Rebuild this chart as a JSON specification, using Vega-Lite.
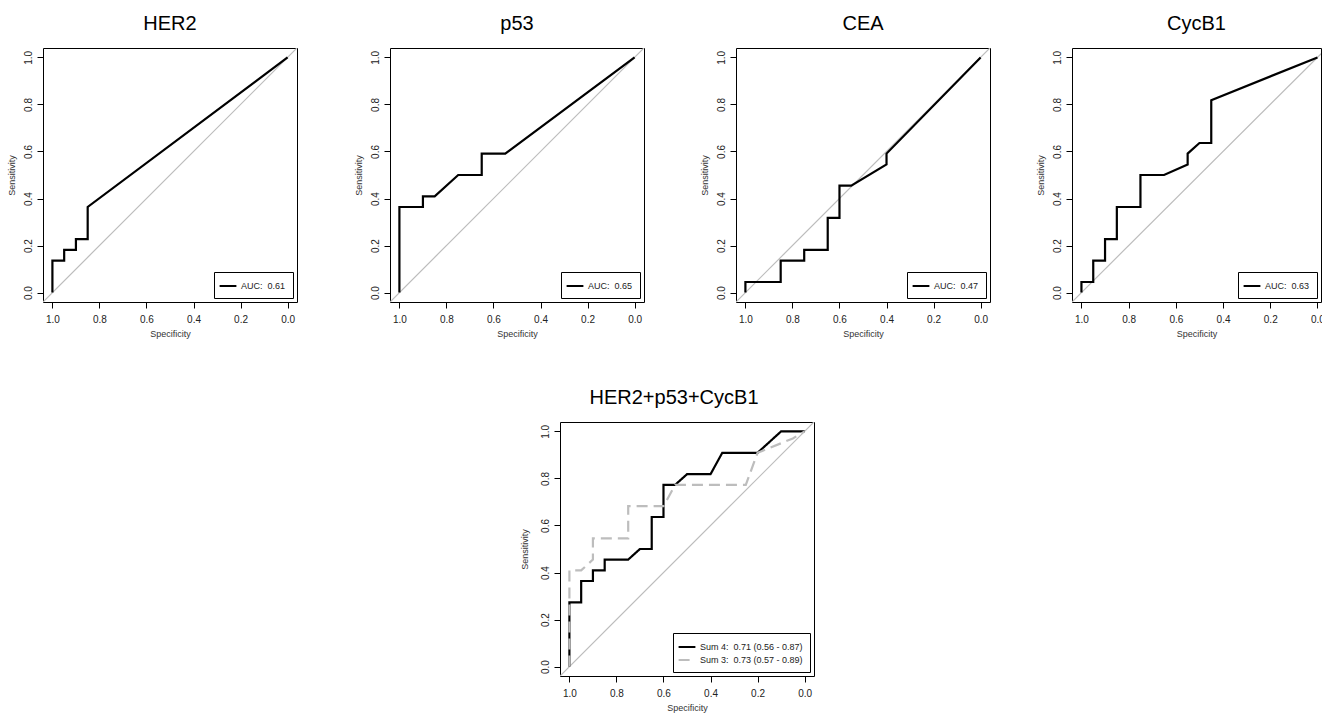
{
  "$schema": "https://vega.github.io/schema/vega-lite/v6.json",
  "padding": {"left": 6, "top": 13, "right": 0, "bottom": 0},
  "background": "white",
  "datasets": {
    "diag": [{"spec": 1.04, "sens": -0.04}, {"spec": -0.04, "sens": 1.04}],
    "her2": [
      {"i": 0, "spec": 1, "sens": 0, "series": "AUC:\u00a0 0.61"},
      {"i": 1, "spec": 1, "sens": 0.136, "series": "AUC:\u00a0 0.61"},
      {"i": 2, "spec": 0.95, "sens": 0.136, "series": "AUC:\u00a0 0.61"},
      {"i": 3, "spec": 0.95, "sens": 0.182, "series": "AUC:\u00a0 0.61"},
      {"i": 4, "spec": 0.9, "sens": 0.182, "series": "AUC:\u00a0 0.61"},
      {"i": 5, "spec": 0.9, "sens": 0.227, "series": "AUC:\u00a0 0.61"},
      {"i": 6, "spec": 0.85, "sens": 0.227, "series": "AUC:\u00a0 0.61"},
      {"i": 7, "spec": 0.85, "sens": 0.364, "series": "AUC:\u00a0 0.61"},
      {"i": 8, "spec": 0, "sens": 1, "series": "AUC:\u00a0 0.61"}
    ],
    "p53": [
      {"i": 0, "spec": 1, "sens": 0, "series": "AUC:\u00a0 0.65"},
      {"i": 1, "spec": 1, "sens": 0.364, "series": "AUC:\u00a0 0.65"},
      {"i": 2, "spec": 0.9, "sens": 0.364, "series": "AUC:\u00a0 0.65"},
      {"i": 3, "spec": 0.9, "sens": 0.409, "series": "AUC:\u00a0 0.65"},
      {"i": 4, "spec": 0.85, "sens": 0.409, "series": "AUC:\u00a0 0.65"},
      {"i": 5, "spec": 0.75, "sens": 0.5, "series": "AUC:\u00a0 0.65"},
      {"i": 6, "spec": 0.65, "sens": 0.5, "series": "AUC:\u00a0 0.65"},
      {"i": 7, "spec": 0.65, "sens": 0.591, "series": "AUC:\u00a0 0.65"},
      {"i": 8, "spec": 0.55, "sens": 0.591, "series": "AUC:\u00a0 0.65"},
      {"i": 9, "spec": 0, "sens": 1, "series": "AUC:\u00a0 0.65"}
    ],
    "cea": [
      {"i": 0, "spec": 1, "sens": 0, "series": "AUC:\u00a0 0.47"},
      {"i": 1, "spec": 1, "sens": 0.045, "series": "AUC:\u00a0 0.47"},
      {"i": 2, "spec": 0.85, "sens": 0.045, "series": "AUC:\u00a0 0.47"},
      {"i": 3, "spec": 0.85, "sens": 0.136, "series": "AUC:\u00a0 0.47"},
      {"i": 4, "spec": 0.75, "sens": 0.136, "series": "AUC:\u00a0 0.47"},
      {"i": 5, "spec": 0.75, "sens": 0.182, "series": "AUC:\u00a0 0.47"},
      {"i": 6, "spec": 0.65, "sens": 0.182, "series": "AUC:\u00a0 0.47"},
      {"i": 7, "spec": 0.65, "sens": 0.318, "series": "AUC:\u00a0 0.47"},
      {"i": 8, "spec": 0.6, "sens": 0.318, "series": "AUC:\u00a0 0.47"},
      {"i": 9, "spec": 0.6, "sens": 0.455, "series": "AUC:\u00a0 0.47"},
      {"i": 10, "spec": 0.55, "sens": 0.455, "series": "AUC:\u00a0 0.47"},
      {"i": 11, "spec": 0.4, "sens": 0.545, "series": "AUC:\u00a0 0.47"},
      {"i": 12, "spec": 0.4, "sens": 0.591, "series": "AUC:\u00a0 0.47"},
      {"i": 13, "spec": 0, "sens": 1, "series": "AUC:\u00a0 0.47"}
    ],
    "cycb1": [
      {"i": 0, "spec": 1, "sens": 0, "series": "AUC:\u00a0 0.63"},
      {"i": 1, "spec": 1, "sens": 0.045, "series": "AUC:\u00a0 0.63"},
      {"i": 2, "spec": 0.95, "sens": 0.045, "series": "AUC:\u00a0 0.63"},
      {"i": 3, "spec": 0.95, "sens": 0.136, "series": "AUC:\u00a0 0.63"},
      {"i": 4, "spec": 0.9, "sens": 0.136, "series": "AUC:\u00a0 0.63"},
      {"i": 5, "spec": 0.9, "sens": 0.227, "series": "AUC:\u00a0 0.63"},
      {"i": 6, "spec": 0.85, "sens": 0.227, "series": "AUC:\u00a0 0.63"},
      {"i": 7, "spec": 0.85, "sens": 0.364, "series": "AUC:\u00a0 0.63"},
      {"i": 8, "spec": 0.75, "sens": 0.364, "series": "AUC:\u00a0 0.63"},
      {"i": 9, "spec": 0.75, "sens": 0.5, "series": "AUC:\u00a0 0.63"},
      {"i": 10, "spec": 0.65, "sens": 0.5, "series": "AUC:\u00a0 0.63"},
      {"i": 11, "spec": 0.55, "sens": 0.545, "series": "AUC:\u00a0 0.63"},
      {"i": 12, "spec": 0.55, "sens": 0.591, "series": "AUC:\u00a0 0.63"},
      {"i": 13, "spec": 0.5, "sens": 0.636, "series": "AUC:\u00a0 0.63"},
      {"i": 14, "spec": 0.45, "sens": 0.636, "series": "AUC:\u00a0 0.63"},
      {"i": 15, "spec": 0.45, "sens": 0.818, "series": "AUC:\u00a0 0.63"},
      {"i": 16, "spec": 0, "sens": 1, "series": "AUC:\u00a0 0.63"}
    ],
    "combo": [
      {"i": 0, "spec": 1, "sens": 0, "series": "Sum 4:\u00a0 0.71 (0.56 - 0.87)"},
      {"i": 1, "spec": 1, "sens": 0.273, "series": "Sum 4:\u00a0 0.71 (0.56 - 0.87)"},
      {"i": 2, "spec": 0.95, "sens": 0.273, "series": "Sum 4:\u00a0 0.71 (0.56 - 0.87)"},
      {"i": 3, "spec": 0.95, "sens": 0.364, "series": "Sum 4:\u00a0 0.71 (0.56 - 0.87)"},
      {"i": 4, "spec": 0.9, "sens": 0.364, "series": "Sum 4:\u00a0 0.71 (0.56 - 0.87)"},
      {"i": 5, "spec": 0.9, "sens": 0.409, "series": "Sum 4:\u00a0 0.71 (0.56 - 0.87)"},
      {"i": 6, "spec": 0.85, "sens": 0.409, "series": "Sum 4:\u00a0 0.71 (0.56 - 0.87)"},
      {"i": 7, "spec": 0.85, "sens": 0.455, "series": "Sum 4:\u00a0 0.71 (0.56 - 0.87)"},
      {"i": 8, "spec": 0.75, "sens": 0.455, "series": "Sum 4:\u00a0 0.71 (0.56 - 0.87)"},
      {"i": 9, "spec": 0.7, "sens": 0.5, "series": "Sum 4:\u00a0 0.71 (0.56 - 0.87)"},
      {"i": 10, "spec": 0.65, "sens": 0.5, "series": "Sum 4:\u00a0 0.71 (0.56 - 0.87)"},
      {"i": 11, "spec": 0.65, "sens": 0.636, "series": "Sum 4:\u00a0 0.71 (0.56 - 0.87)"},
      {"i": 12, "spec": 0.6, "sens": 0.636, "series": "Sum 4:\u00a0 0.71 (0.56 - 0.87)"},
      {"i": 13, "spec": 0.6, "sens": 0.773, "series": "Sum 4:\u00a0 0.71 (0.56 - 0.87)"},
      {"i": 14, "spec": 0.55, "sens": 0.773, "series": "Sum 4:\u00a0 0.71 (0.56 - 0.87)"},
      {"i": 15, "spec": 0.5, "sens": 0.818, "series": "Sum 4:\u00a0 0.71 (0.56 - 0.87)"},
      {"i": 16, "spec": 0.4, "sens": 0.818, "series": "Sum 4:\u00a0 0.71 (0.56 - 0.87)"},
      {"i": 17, "spec": 0.35, "sens": 0.909, "series": "Sum 4:\u00a0 0.71 (0.56 - 0.87)"},
      {"i": 18, "spec": 0.2, "sens": 0.909, "series": "Sum 4:\u00a0 0.71 (0.56 - 0.87)"},
      {"i": 19, "spec": 0.1, "sens": 1, "series": "Sum 4:\u00a0 0.71 (0.56 - 0.87)"},
      {"i": 20, "spec": 0, "sens": 1, "series": "Sum 4:\u00a0 0.71 (0.56 - 0.87)"},
      {"i": 0, "spec": 1, "sens": 0, "series": "Sum 3:\u00a0 0.73 (0.57 - 0.89)"},
      {"i": 1, "spec": 1, "sens": 0.409, "series": "Sum 3:\u00a0 0.73 (0.57 - 0.89)"},
      {"i": 2, "spec": 0.95, "sens": 0.409, "series": "Sum 3:\u00a0 0.73 (0.57 - 0.89)"},
      {"i": 3, "spec": 0.9, "sens": 0.455, "series": "Sum 3:\u00a0 0.73 (0.57 - 0.89)"},
      {"i": 4, "spec": 0.9, "sens": 0.545, "series": "Sum 3:\u00a0 0.73 (0.57 - 0.89)"},
      {"i": 5, "spec": 0.75, "sens": 0.545, "series": "Sum 3:\u00a0 0.73 (0.57 - 0.89)"},
      {"i": 6, "spec": 0.75, "sens": 0.682, "series": "Sum 3:\u00a0 0.73 (0.57 - 0.89)"},
      {"i": 7, "spec": 0.6, "sens": 0.682, "series": "Sum 3:\u00a0 0.73 (0.57 - 0.89)"},
      {"i": 8, "spec": 0.55, "sens": 0.773, "series": "Sum 3:\u00a0 0.73 (0.57 - 0.89)"},
      {"i": 9, "spec": 0.25, "sens": 0.773, "series": "Sum 3:\u00a0 0.73 (0.57 - 0.89)"},
      {"i": 10, "spec": 0.2, "sens": 0.909, "series": "Sum 3:\u00a0 0.73 (0.57 - 0.89)"},
      {"i": 11, "spec": 0.05, "sens": 0.97, "series": "Sum 3:\u00a0 0.73 (0.57 - 0.89)"},
      {"i": 12, "spec": 0, "sens": 1, "series": "Sum 3:\u00a0 0.73 (0.57 - 0.89)"}
    ]
  },
  "vconcat": [
    {
      "hconcat": [
        {
          "width": 254, "height": 254,
          "title": {"text": "HER2", "offset": 14},
          "encoding": {
            "x": {"field": "spec", "type": "quantitative", "scale": {"domain": [-0.04, 1.04], "reverse": true, "nice": false, "zero": false}, "axis": {"title": "Specificity", "values": [0, 0.2, 0.4, 0.6, 0.8, 1]}},
            "y": {"field": "sens", "type": "quantitative", "scale": {"domain": [-0.04, 1.04], "nice": false, "zero": false}, "axis": {"title": "Sensitivity", "values": [0, 0.2, 0.4, 0.6, 0.8, 1]}}
          },
          "layer": [
            {"data": {"name": "diag"}, "mark": {"type": "line", "color": "#bcbcbc", "strokeWidth": 1.2, "clip": true}, "encoding": {}},
            {"data": {"name": "her2"}, "mark": {"type": "line", "strokeWidth": 2.2, "clip": true},
             "encoding": {"order": {"field": "i", "type": "quantitative"}, "color": {"field": "series", "type": "nominal", "scale": {"range": ["black"]}, "legend": {"orient": "bottom-right"}}}}
          ]
        },
        {
          "hconcat": [
            {
              "width": 254, "height": 254,
              "title": {"text": "p53", "offset": 14},
              "encoding": {
                "x": {"field": "spec", "type": "quantitative", "scale": {"domain": [-0.04, 1.04], "reverse": true, "nice": false, "zero": false}, "axis": {"title": "Specificity", "values": [0, 0.2, 0.4, 0.6, 0.8, 1]}},
                "y": {"field": "sens", "type": "quantitative", "scale": {"domain": [-0.04, 1.04], "nice": false, "zero": false}, "axis": {"title": "Sensitivity", "values": [0, 0.2, 0.4, 0.6, 0.8, 1]}}
              },
              "layer": [
                {"data": {"name": "diag"}, "mark": {"type": "line", "color": "#bcbcbc", "strokeWidth": 1.2, "clip": true}, "encoding": {}},
                {"data": {"name": "p53"}, "mark": {"type": "line", "strokeWidth": 2.2, "clip": true},
                 "encoding": {"order": {"field": "i", "type": "quantitative"}, "color": {"field": "series", "type": "nominal", "scale": {"range": ["black"]}, "legend": {"orient": "bottom-right"}}}}
              ]
            },
            {
              "hconcat": [
                {
                  "width": 254, "height": 254,
                  "title": {"text": "CEA", "offset": 14},
                  "encoding": {
                    "x": {"field": "spec", "type": "quantitative", "scale": {"domain": [-0.04, 1.04], "reverse": true, "nice": false, "zero": false}, "axis": {"title": "Specificity", "values": [0, 0.2, 0.4, 0.6, 0.8, 1]}},
                    "y": {"field": "sens", "type": "quantitative", "scale": {"domain": [-0.04, 1.04], "nice": false, "zero": false}, "axis": {"title": "Sensitivity", "values": [0, 0.2, 0.4, 0.6, 0.8, 1]}}
                  },
                  "layer": [
                    {"data": {"name": "diag"}, "mark": {"type": "line", "color": "#bcbcbc", "strokeWidth": 1.2, "clip": true}, "encoding": {}},
                    {"data": {"name": "cea"}, "mark": {"type": "line", "strokeWidth": 2.2, "clip": true},
                     "encoding": {"order": {"field": "i", "type": "quantitative"}, "color": {"field": "series", "type": "nominal", "scale": {"range": ["black"]}, "legend": {"orient": "bottom-right"}}}}
                  ]
                },
                {
                  "width": 249, "height": 254,
                  "title": {"text": "CycB1", "offset": 14},
                  "encoding": {
                    "x": {"field": "spec", "type": "quantitative", "scale": {"domain": [-0.015, 1.04], "reverse": true, "nice": false, "zero": false}, "axis": {"title": "Specificity", "values": [0, 0.2, 0.4, 0.6, 0.8, 1]}},
                    "y": {"field": "sens", "type": "quantitative", "scale": {"domain": [-0.04, 1.04], "nice": false, "zero": false}, "axis": {"title": "Sensitivity", "values": [0, 0.2, 0.4, 0.6, 0.8, 1]}}
                  },
                  "layer": [
                    {"data": {"name": "diag"}, "mark": {"type": "line", "color": "#bcbcbc", "strokeWidth": 1.2, "clip": true}, "encoding": {}},
                    {"data": {"name": "cycb1"}, "mark": {"type": "line", "strokeWidth": 2.2, "clip": true},
                     "encoding": {"order": {"field": "i", "type": "quantitative"}, "color": {"field": "series", "type": "nominal", "scale": {"range": ["black"]}, "legend": {"orient": "bottom-right"}}}}
                  ]
                }
              ],
              "spacing": 44,
              "resolve": {"scale": {"x": "independent", "y": "independent", "color": "independent"}, "legend": {"color": "independent"}}
            }
          ],
          "spacing": 54,
          "resolve": {"scale": {"x": "independent", "y": "independent", "color": "independent"}, "legend": {"color": "independent"}}
        }
      ],
      "spacing": 55,
      "resolve": {"scale": {"x": "independent", "y": "independent", "color": "independent"}, "legend": {"color": "independent"}}
    },
    {
      "hconcat": [
        {
          "width": 476, "height": 10,
          "view": {"stroke": null},
          "data": {"values": [{"spec": 0}]},
          "mark": {"type": "point", "opacity": 0}
        },
        {
          "width": 254, "height": 254,
          "title": {"text": "HER2+p53+CycB1", "offset": 14, "dx": -13},
          "encoding": {
            "x": {"field": "spec", "type": "quantitative", "scale": {"domain": [-0.04, 1.04], "reverse": true, "nice": false, "zero": false}, "axis": {"title": "Specificity", "values": [0, 0.2, 0.4, 0.6, 0.8, 1]}},
            "y": {"field": "sens", "type": "quantitative", "scale": {"domain": [-0.04, 1.04], "nice": false, "zero": false}, "axis": {"title": "Sensitivity", "values": [0, 0.2, 0.4, 0.6, 0.8, 1], "titlePadding": 11.5}}
          },
          "layer": [
            {"data": {"name": "diag"}, "mark": {"type": "line", "color": "#bcbcbc", "strokeWidth": 1.2, "clip": true}, "encoding": {}},
            {"data": {"name": "combo"}, "transform": [{"filter": "indexof(datum.series, 'Sum 4') === 0"}],
             "mark": {"type": "line", "strokeWidth": 2.2, "clip": true},
             "encoding": {"order": {"field": "i", "type": "quantitative"},
               "color": {"field": "series", "type": "nominal", "scale": {"domain": ["Sum 4:\u00a0 0.71 (0.56 - 0.87)", "Sum 3:\u00a0 0.73 (0.57 - 0.89)"], "range": ["black", "#bdbdbd"]}, "legend": {"orient": "bottom-right"}},
               "strokeDash": {"field": "series", "type": "nominal", "scale": {"domain": ["Sum 4:\u00a0 0.71 (0.56 - 0.87)", "Sum 3:\u00a0 0.73 (0.57 - 0.89)"], "range": [[1, 0], [11, 6]]}, "legend": {"orient": "bottom-right"}}}},
            {"data": {"name": "combo"}, "transform": [{"filter": "indexof(datum.series, 'Sum 3') === 0"}],
             "mark": {"type": "line", "strokeWidth": 2.2, "clip": true},
             "encoding": {"order": {"field": "i", "type": "quantitative"},
               "color": {"field": "series", "type": "nominal"},
               "strokeDash": {"field": "series", "type": "nominal"}}}
          ]
        }
      ],
      "spacing": 0,
      "resolve": {"scale": {"x": "independent", "y": "independent", "color": "independent", "strokeDash": "independent"}, "legend": {"color": "independent", "strokeDash": "independent"}}
    }
  ],
  "spacing": 48,
  "resolve": {"scale": {"x": "independent", "y": "independent", "color": "independent", "strokeDash": "independent"}, "legend": {"color": "independent", "strokeDash": "independent"}},
  "config": {
    "font": "Liberation Sans",
    "view": {"stroke": "black", "strokeWidth": 1},
    "title": {"font": "Liberation Sans", "fontSize": 20, "fontWeight": "normal", "color": "black", "anchor": "middle"},
    "axis": {"domain": false, "grid": false, "tickColor": "black", "tickSize": 6, "tickWidth": 1, "labelFont": "Liberation Sans", "labelFontSize": 10, "labelColor": "#222", "titleFont": "Liberation Sans", "titleFontSize": 9, "titleFontWeight": "normal", "titleColor": "#333", "format": ".1f"},
    "axisX": {"labelPadding": 6, "titlePadding": 5, "labelAngle": 0},
    "axisY": {"labelAngle": 270, "labelAlign": "center", "labelBaseline": "bottom", "labelPadding": 3.5, "titlePadding": 7.5},
    "legend": {"title": null, "offset": 4, "fillColor": "white", "strokeColor": "black", "padding": 7, "symbolType": "M-1.4,0H1.4", "symbolSize": 144, "symbolStrokeWidth": 2, "labelFont": "Liberation Sans", "labelFontSize": 9, "labelColor": "#222", "labelOffset": 6, "cornerRadius": 0, "rowPadding": 1}
  }
}
